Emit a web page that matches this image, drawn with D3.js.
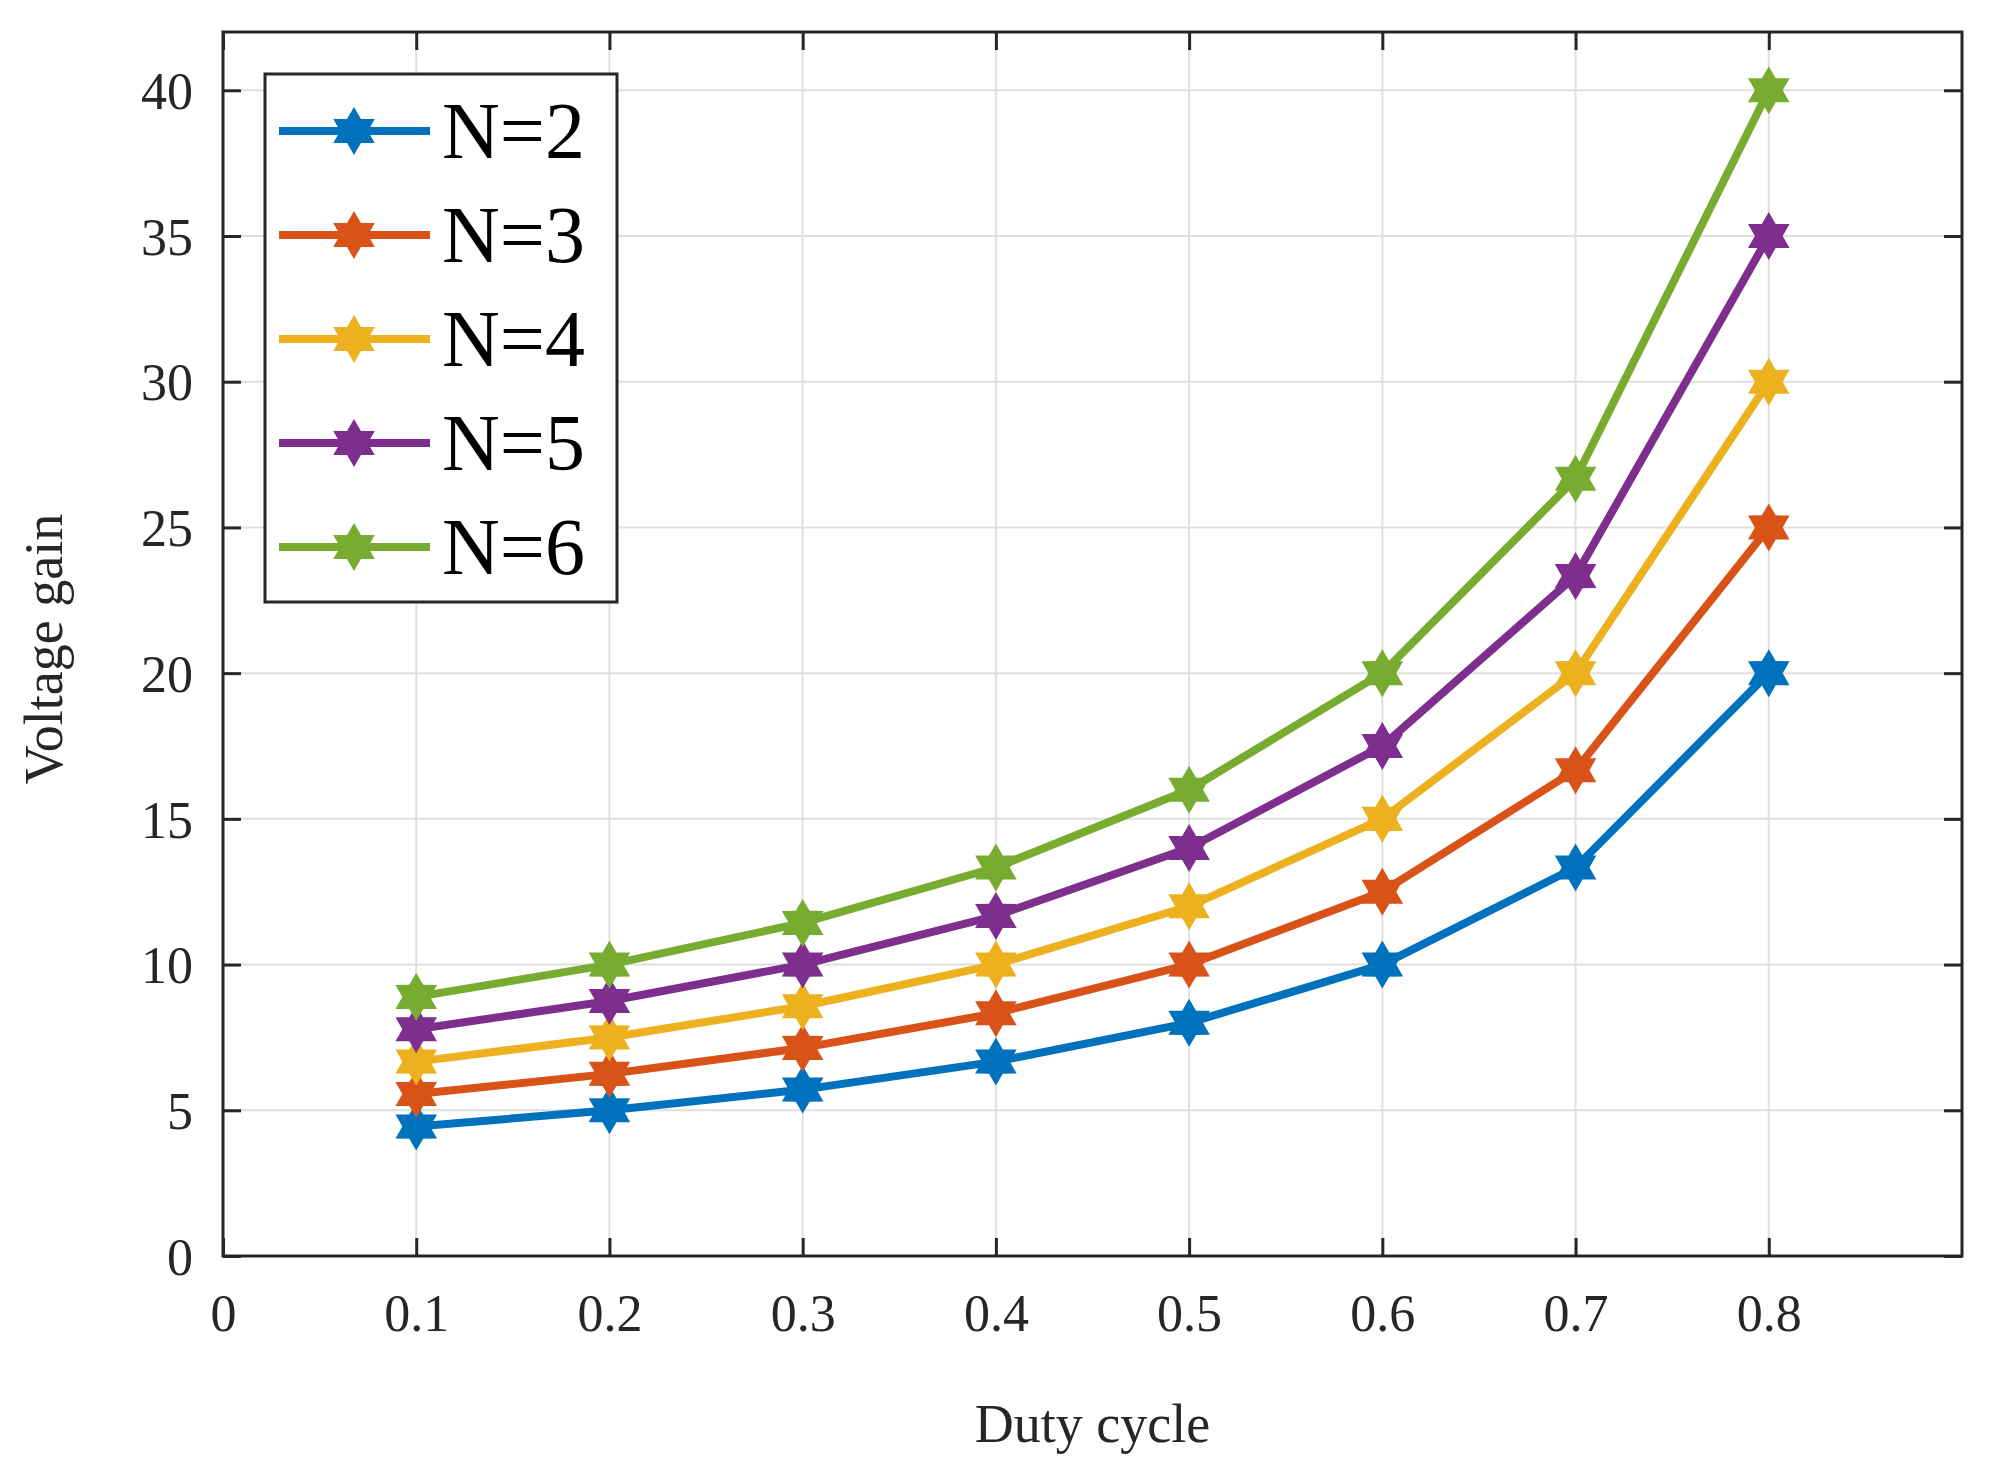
<!DOCTYPE html>
<html><head><meta charset="utf-8">
<script src="https://cdn.jsdelivr.net/npm/d3@7"></script>
<style>body{margin:0;background:#fff}</style>
</head><body>
<svg id="chart" width="1991" height="1484"></svg>
<script>
var duty = [0.1, 0.2, 0.3, 0.4, 0.5, 0.6, 0.7, 0.8];
var gainN2 = [4.44, 5.0, 5.71, 6.67, 8.0, 10.0, 13.33, 20.0];
var gainN3 = [5.56, 6.25, 7.14, 8.33, 10.0, 12.5, 16.67, 25.0];
var gainN4 = [6.67, 7.5, 8.57, 10.0, 12.0, 15.0, 20.0, 30.0];
var gainN5 = [7.78, 8.75, 10.0, 11.67, 14.0, 17.5, 23.33, 35.0];
var gainN6 = [8.89, 10.0, 11.43, 13.33, 16.0, 20.0, 26.67, 40.0];
var names = ["N=2", "N=3", "N=4", "N=5", "N=6"];
var xTicks = [0, 0.1, 0.2, 0.3, 0.4, 0.5, 0.6, 0.7, 0.8];
var yTicks = [0, 5, 10, 15, 20, 25, 30, 35, 40];

var series = [gainN2, gainN3, gainN4, gainN5, gainN6];
var colors = ["#0072BD", "#D95319", "#EDB120", "#7E2F8E", "#77AC30"];

var L = 223, T = 32, R = 1962, B = 1256;
var svg = d3.select("#chart");
var font = "'Liberation Serif', 'Times New Roman', serif";

var x = d3.scaleLinear().domain([0, 0.9]).range([L, R]);
var y = d3.scaleLinear().domain([0, 42]).range([B, T]);

// grid
svg.append("g").selectAll("line").data(xTicks.slice(1)).enter().append("line")
    .attr("x1", d => x(d)).attr("x2", d => x(d)).attr("y1", T).attr("y2", B)
    .attr("stroke", "#dfdfdf").attr("stroke-width", 2);
svg.append("g").selectAll("line").data(yTicks.slice(1)).enter().append("line")
    .attr("y1", d => y(d)).attr("y2", d => y(d)).attr("x1", L).attr("x2", R)
    .attr("stroke", "#dfdfdf").attr("stroke-width", 2);

// axes with inward ticks
var ax = svg.append("g").attr("transform", "translate(0," + B + ")")
    .call(d3.axisBottom(x).tickValues(xTicks).tickFormat(d => d === 0 ? "0" : d3.format(".1f")(d)).tickSizeInner(-18).tickSizeOuter(0).tickPadding(38));
var axT = svg.append("g").attr("transform", "translate(0," + T + ")")
    .call(d3.axisTop(x).tickValues(xTicks).tickFormat("").tickSizeInner(-18).tickSizeOuter(0));
var ay = svg.append("g").attr("transform", "translate(" + L + ",0)")
    .call(d3.axisLeft(y).tickValues(yTicks).tickSizeInner(-18).tickSizeOuter(0).tickPadding(30));
var ayR = svg.append("g").attr("transform", "translate(" + R + ",0)")
    .call(d3.axisRight(y).tickValues(yTicks).tickFormat("").tickSizeInner(-18).tickSizeOuter(0));
[ax, axT, ay, ayR].forEach(function (g) {
    g.select(".domain").remove();
    g.selectAll("line").attr("stroke", "#262626").attr("stroke-width", 3);
    g.selectAll("text").attr("font-family", font).attr("font-size", 52).attr("fill", "#262626");
});
ay.selectAll("text").attr("dy", "0.35em");

svg.append("rect").attr("x", L).attr("y", T).attr("width", R - L).attr("height", B - T)
    .attr("fill", "none").attr("stroke", "#262626").attr("stroke-width", 3);

// labels
svg.append("text").attr("x", (L + R) / 2).attr("y", 1442).attr("text-anchor", "middle")
    .attr("font-family", font).attr("font-size", 54).attr("fill", "#262626").text("Duty cycle");
svg.append("text").attr("transform", "translate(62," + (y(21) + 5) + ") rotate(-90)").attr("text-anchor", "middle")
    .attr("font-family", font).attr("font-size", 54).attr("fill", "#262626").text("Voltage gain");

var star = d3.symbol().type(d3.symbolStar).size(900);
function hexagram(s) {
    var p = [];
    for (var i = 0; i < 12; i++) {
        var a = Math.PI / 6 * i - Math.PI / 2;
        var r = i % 2 === 0 ? s : s * 0.58;
        p.push([r * Math.cos(a), r * Math.sin(a)]);
    }
    return "M" + p.join("L") + "Z";
}
var line = d3.line().x((d, i) => x(duty[i])).y(d => y(d));

series.forEach(function (s, k) {
    svg.append("path").datum(s).attr("d", line).attr("fill", "none")
        .attr("stroke", colors[k]).attr("stroke-width", 8).attr("stroke-linejoin", "round");
    svg.append("g").selectAll("path").data(s).enter().append("path")
        .attr("d", hexagram(24))
        .attr("transform", (d, i) => "translate(" + x(duty[i]) + "," + y(d) + ")")
        .attr("fill", colors[k]);
});

// legend
var lg = svg.append("g");
lg.append("rect").attr("x", 265).attr("y", 74).attr("width", 352).attr("height", 528)
    .attr("fill", "#fff").attr("stroke", "#262626").attr("stroke-width", 3);
names.forEach(function (n, k) {
    var yy = 131 + k * 104;
    lg.append("line").attr("x1", 279).attr("x2", 430).attr("y1", yy).attr("y2", yy)
        .attr("stroke", colors[k]).attr("stroke-width", 8);
    lg.append("path").attr("d", hexagram(24)).attr("transform", "translate(354," + yy + ")").attr("fill", colors[k]);
    lg.append("text").attr("x", 442).attr("y", yy + 27).attr("font-family", font)
        .attr("font-size", 80).attr("fill", "#000").text(n);
});
</script>
</body></html>
